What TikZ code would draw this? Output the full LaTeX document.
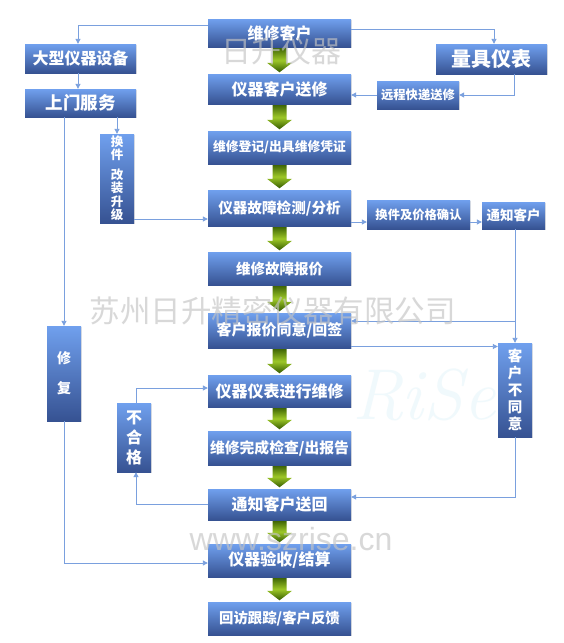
\documentclass[tikz,border=0pt]{standalone}
\usepackage{fontspec}
\newfontfamily\cjk{Noto Sans CJK SC}
\setsansfont{Liberation Sans}
\usetikzlibrary{arrows.meta,calc,shadows}
\definecolor{boxtop}{RGB}{112,160,238}
\definecolor{boxbot}{RGB}{54,82,146}
\definecolor{linec}{RGB}{122,160,222}
\definecolor{gtop}{RGB}{66,104,6}
\definecolor{gmid}{RGB}{158,200,40}
\definecolor{gbot}{RGB}{52,90,0}
\definecolor{wmgray}{RGB}{196,196,196}
\definecolor{wmcyan}{RGB}{240,249,252}
\newcommand\garrow[2]{%
  \shade[top color=gtop, bottom color=gbot, middle color=gmid]
    ($(#1.south)+(-7pt,-1pt)$) -- ($(#1.south)+(7pt,-1pt)$) --
    ($(#2.north)+(7pt,11pt)$) -- ($(#2.north)+(12.5pt,11pt)$) --
    ($(#2.north)+(0pt,1.5pt)$) -- ($(#2.north)+(-12.5pt,11pt)$) --
    ($(#2.north)+(-7pt,11pt)$) -- cycle;}
\begin{document}
\begin{tikzpicture}[x=1pt,y=-1pt,
  bluebox/.style={top color=boxtop, bottom color=boxbot, text=white,
    inner sep=0pt, align=center,
    drop shadow={shadow xshift=1pt, shadow yshift=-1.2pt, opacity=0.22}},
  mainbox/.style={bluebox, minimum width=143pt},
  conn/.style={draw=linec, line width=0.9pt, -{Triangle[length=5pt,width=5pt]}},
  wm/.style={text=wmgray, opacity=0.65, inner sep=0pt}]
\fill[white] (0,0) rectangle (564,643);
\useasboundingbox (0,0) rectangle (564,643);

% faint logo watermark
\node[text=wmcyan, font=\fontsize{72}{72}\selectfont\itshape, inner sep=0pt] (logo) at (424,395) {RiSe};

% main column
\node[mainbox, minimum height=28pt, font=\cjk\bfseries\fontsize{16}{18}\selectfont] (kh) at (279.5,33) {维修客户};
\node[mainbox, minimum height=30pt, font=\cjk\bfseries\fontsize{16}{18}\selectfont] (sx) at (279.5,89) {仪器客户送修};
\node[mainbox, minimum height=33pt, font=\cjk\bfseries\fontsize{12.8}{15}\selectfont] (dj) at (279.5,147.5) {维修登记/出具维修凭证};
\node[mainbox, minimum height=36pt, font=\cjk\bfseries\fontsize{14.6}{17}\selectfont] (jc) at (279.5,208) {仪器故障检测/分析};
\node[mainbox, minimum height=33pt, font=\cjk\bfseries\fontsize{14.5}{17}\selectfont] (bj) at (279.5,268.5) {维修故障报价};
\node[mainbox, minimum height=35pt, font=\cjk\bfseries\fontsize{15}{17}\selectfont] (ty) at (279.5,330.5) {客户报价同意/回签};
\node[mainbox, minimum height=32pt, font=\cjk\bfseries\fontsize{16}{18}\selectfont] (wx) at (279.5,391) {仪器仪表进行维修};
\node[mainbox, minimum height=34pt, font=\cjk\bfseries\fontsize{14.8}{17}\selectfont] (jcbg) at (279.5,448) {维修完成检查/出报告};
\node[mainbox, minimum height=31pt, font=\cjk\bfseries\fontsize{16}{18}\selectfont] (sh) at (279.5,504.5) {通知客户送回};
\node[mainbox, minimum height=33pt, font=\cjk\bfseries\fontsize{16}{18}\selectfont] (ys) at (279.5,560.5) {仪器验收/结算};
\node[mainbox, minimum height=33pt, font=\cjk\bfseries\fontsize{14.4}{17}\selectfont] (hf) at (279.5,618.5) {回访跟踪/客户反馈};

% side boxes
\node[bluebox, minimum width=111pt, minimum height=29pt, font=\cjk\bfseries\fontsize{16}{18}\selectfont] (dx) at (80.5,58.5) {大型仪器设备};
\node[bluebox, minimum width=111pt, minimum height=28pt, font=\cjk\bfseries\fontsize{17.5}{19}\selectfont] (sm) at (80.5,103) {上门服务};
\node[bluebox, minimum width=111pt, minimum height=30pt, font=\cjk\bfseries\fontsize{20}{22}\selectfont] (lj) at (491.5,59) {量具仪表};
\node[bluebox, minimum width=82pt, minimum height=28pt, font=\cjk\bfseries\fontsize{12.3}{14}\selectfont] (yc) at (418,95) {远程快递送修};
\node[bluebox, minimum width=34pt, minimum height=89pt, font=\cjk\bfseries\fontsize{12.5}{13.5}\selectfont] (hj) at (117,178.5) {换\\件\\[6pt]改\\装\\升\\级};
\node[bluebox, minimum width=103pt, minimum height=29pt, font=\cjk\bfseries\fontsize{12.3}{14}\selectfont] (jg) at (418.5,214.5) {换件及价格确认};
\node[bluebox, minimum width=63pt, minimum height=27pt, font=\cjk\bfseries\fontsize{13.5}{15}\selectfont] (tz) at (513.5,215.5) {通知客户};
\node[bluebox, minimum width=34pt, minimum height=95pt, font=\cjk\bfseries\fontsize{14}{30}\selectfont] (xf) at (64,373.5) {修\\复};
\node[bluebox, minimum width=34pt, minimum height=69pt, font=\cjk\bfseries\fontsize{16}{20}\selectfont] (bh) at (134,437.5) {不\\合\\格};
\node[bluebox, minimum width=34pt, minimum height=94pt, font=\cjk\bfseries\fontsize{14.5}{17}\selectfont] (bty) at (515,390) {客\\户\\不\\同\\意};

% green block arrows
\garrow{kh}{sx}
\garrow{sx}{dj}
\garrow{dj}{jc}
\garrow{jc}{bj}
\garrow{bj}{ty}
\garrow{ty}{wx}
\garrow{wx}{jcbg}
\garrow{jcbg}{sh}
\garrow{sh}{ys}
\garrow{ys}{hf}

% connectors
\draw[conn] ([yshift=8pt]kh.west) -| ([xshift=-2.5pt]dx.north);
\draw[conn] ([yshift=4pt]kh.east) -| ([xshift=2.5pt]lj.north);
\coordinate (ljo) at ([xshift=22.5pt]lj.south);
\draw[conn] (ljo) |- (yc.east);
\draw[conn] (yc.west) -- (yc.west -| sx.east);
\draw[conn] ([xshift=-2.5pt]dx.south) -- ([xshift=-2.5pt]sm.north);
\draw[conn] (sm.south -| xf.north) -- (xf.north);
\draw[conn] (sm.south -| hj.north) -- (hj.north);
\coordinate (hjo) at ([yshift=-40.5pt]hj.east);
\draw[conn] (hjo) -- (hjo -| jc.west);
\coordinate (jco) at ([yshift=-14pt]jc.east);
\draw[conn] (jco) -- (jco -| jg.west);
\draw[conn] (jco -| jg.east) -- (jco -| tz.west);
\coordinate (tzo) at (tz.south -| bty.north);
\coordinate (tyi) at ([yshift=9.5pt]ty.east);
\draw[conn] (tzo) |- (tyi);
\draw[conn] (tzo) -- (bty.north);
\coordinate (tyo) at ([yshift=-16pt]ty.east);
\draw[conn] (tyo) -- (tyo -| bty.west);
\coordinate (shi) at ([yshift=7.5pt]sh.east);
\draw[conn] (bty.south) |- (shi);
\coordinate (bhx) at ([xshift=2pt]bh.south);
\draw[conn] (sh.west) -| (bhx);
\coordinate (bhn) at ([xshift=2pt]bh.north);
\coordinate (wxi) at ([yshift=3pt]wx.west);
\draw[conn] (bhn) |- (wxi);
\coordinate (ysi) at ([yshift=-2.5pt]ys.west);
\draw[conn] (xf.south) |- (ysi);

% text watermarks
\node[wm, font=\cjk\fontsize{30}{30}\selectfont] (wm1) at (281,51) {日升仪器};
\node[wm, font=\cjk\fontsize{30.5}{31}\selectfont] (wm2) at (272.5,311) {苏州日升精密仪器有限公司};
\node[wm, font=\sffamily\fontsize{32}{32}\selectfont] (wm3) at (291,539) {www.szrise.cn};
\end{tikzpicture}
\end{document}
